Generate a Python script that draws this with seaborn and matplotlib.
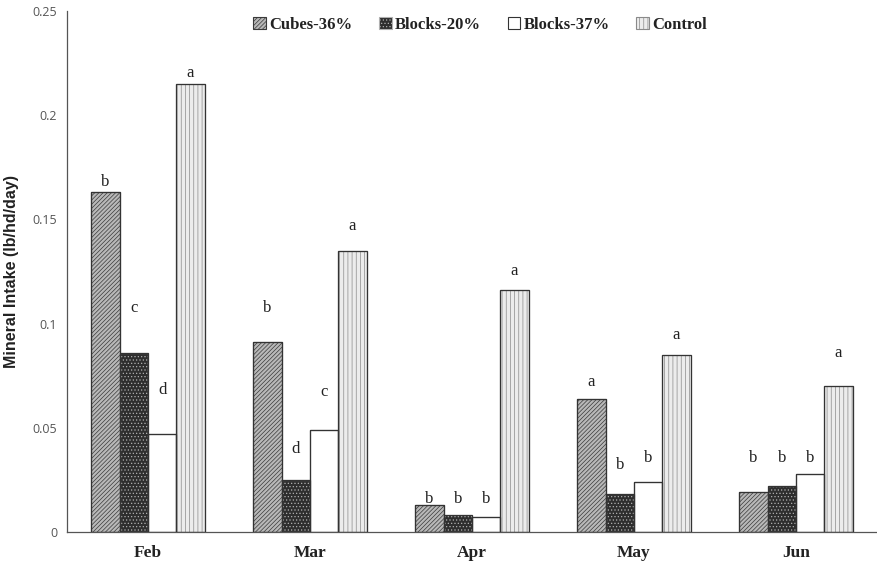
import matplotlib
matplotlib.use("Agg")
import matplotlib.pyplot as plt
import seaborn as sns
import pandas as pd
from matplotlib.patches import Rectangle, Patch

months = ["Feb", "Mar", "Apr", "May", "Jun"]
series = ["Cubes-36%", "Blocks-20%", "Blocks-37%", "Control"]
cubes36 = [0.163, 0.091, 0.013, 0.064, 0.019]
blocks20 = [0.086, 0.025, 0.008, 0.018, 0.022]
blocks37 = [0.047, 0.049, 0.007, 0.024, 0.028]
control = [0.215, 0.135, 0.116, 0.085, 0.070]
letters = {
    "Cubes-36%": ["b", "b", "b", "a", "b"],
    "Blocks-20%": ["c", "d", "b", "b", "b"],
    "Blocks-37%": ["d", "c", "b", "b", "b"],
    "Control": ["a", "a", "a", "a", "a"],
}
letter_y = {
    "Cubes-36%": [0.168, 0.1075, 0.016, 0.072, 0.0355],
    "Blocks-20%": [0.1075, 0.040, 0.016, 0.032, 0.0355],
    "Blocks-37%": [0.068, 0.067, 0.016, 0.0355, 0.0355],
    "Control": [0.220, 0.147, 0.125, 0.0945, 0.086],
}
yticks = [0, 0.05, 0.1, 0.15, 0.2, 0.25]
ytick_labels = ["0", "0.05", "0.1", "0.15", "0.2", "0.25"]

values = [cubes36, blocks20, blocks37, control]
df = pd.DataFrame({
    "Month": [m for _ in series for m in months],
    "Series": [s for s in series for _ in months],
    "Intake": [v for vals in values for v in vals],
})

sns.set_style("white")
plt.rcParams["hatch.linewidth"] = 0.5
serif = ["Liberation Serif", "DejaVu Serif"]

fig = plt.figure(figsize=(8.77, 5.67), dpi=100)
ax = fig.add_axes([0.0764, 0.0617, 0.9236, 0.919])
sns.barplot(data=df, x="Month", y="Intake", hue="Series", order=months,
            hue_order=series, width=0.7, gap=0, ax=ax, legend=False,
            errorbar=None)

styles = {
    "Cubes-36%": dict(fc="#b8b8b8", ec="#3a3a3a", hatch="////////"),
    "Blocks-20%": dict(fc="#2e2e2e", ec="#b0b0b0", hatch="....."),
    "Blocks-37%": dict(fc="white", ec="#333333", hatch=None),
    "Control": dict(fc="#ececec", ec="#8a8a8a", hatch="||||"),
}
for cont, s in zip(ax.containers, series):
    st = styles[s]
    for bar in cont:
        bar.set_facecolor(st["fc"])
        bar.set_edgecolor(st["ec"])
        bar.set_linewidth(0.8)
        if st["hatch"]:
            bar.set_hatch(st["hatch"])
        ax.add_patch(Rectangle(bar.get_xy(), bar.get_width(), bar.get_height(),
                               fill=False, ec="#333333", lw=0.9, zorder=3))
    for bar, lab, ly in zip(cont, letters[s], letter_y[s]):
        ax.text(bar.get_x() + bar.get_width() / 2, ly, lab, ha="center",
                va="center", fontsize=12, family=serif, color="#222222")

ax.set_ylim(0, 0.25)
ax.set_xlim(-0.5, 4.5)
ax.set_yticks(yticks)
ax.set_yticklabels(ytick_labels, family=["Open Sans", "DejaVu Sans"],
                   fontsize=9, color="#555555")
ax.set_xticks(range(len(months)))
ax.set_xticklabels(months, family=serif, fontweight="bold", fontsize=12.5,
                   color="#222222")
ax.set_xticks([i + 0.5 for i in range(-1, len(months))], minor=True)
ax.tick_params(axis="x", which="major", length=0, pad=9)
ax.tick_params(axis="x", which="minor", length=6, direction="inout",
               color="#555555", width=0.8)
ax.tick_params(axis="y", length=6, direction="inout", color="#555555",
               width=0.8, pad=4)
ax.set_xlabel("")
ax.set_ylabel("Mineral Intake (lb/hd/day)", fontweight="bold", fontsize=11.5,
              family=["Liberation Sans Narrow", "Liberation Sans", "DejaVu Sans"],
              color="#222222", labelpad=10)
for sp in ["top", "right"]:
    ax.spines[sp].set_visible(False)
for sp in ["left", "bottom"]:
    ax.spines[sp].set_color("#555555")
    ax.spines[sp].set_linewidth(0.9)

handles = []
for s in series:
    st = styles[s]
    handles.append(Patch(facecolor=st["fc"], edgecolor=st["ec"], hatch=st["hatch"],
                         linewidth=0.8, label=s))
leg = ax.legend(handles=handles, loc="center", bbox_to_anchor=(0.51, 0.973),
                ncol=4, frameon=False, handlelength=0.75, handleheight=0.75,
                handletextpad=0.2, columnspacing=1.6,
                prop={"family": serif, "weight": "bold", "size": 12})
for t in leg.get_texts():
    t.set_color("#222222")

fig.savefig("out.png", dpi=100)
